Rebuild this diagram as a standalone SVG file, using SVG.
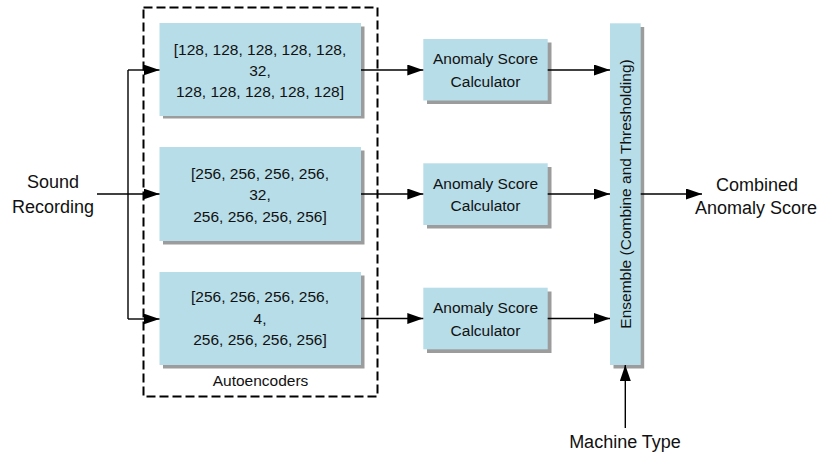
<svg xmlns="http://www.w3.org/2000/svg" width="820" height="456" viewBox="0 0 820 456">
  <defs>
    <marker id="arrow" markerUnits="userSpaceOnUse" markerWidth="16" markerHeight="11" refX="16" refY="5.5" orient="auto">
      <path d="M0,0 L16,5.5 L0,11 Z" fill="#000"/>
    </marker>
  </defs>
  <style>
    .box { fill: #b7dde8; }
    .shadow { fill: #9c9c9c; }
    .txt { font-family: "Liberation Sans", Arial, sans-serif; font-size: 15.5px; fill: #111; text-anchor: middle; }
    .lbl { font-family: "Liberation Sans", Arial, sans-serif; font-size: 18px; fill: #111; text-anchor: middle; }
    .wire { fill: none; stroke: #000; stroke-width: 1.4; }
    .arr { fill: none; stroke: #000; stroke-width: 1.4; marker-end: url(#arrow); }
  </style>
  <rect width="820" height="456" fill="#fff"/>

  <!-- autoencoder group frame -->
  <g id="autoencoders">
    <rect x="143.5" y="7.5" width="234" height="389" fill="none" stroke="#000" stroke-width="2" stroke-dasharray="9,4"/>
    <text class="txt" x="260.5" y="386">Autoencoders</text>
  </g>

  <!-- autoencoder 1 -->
  <g id="ae1">
    <rect class="shadow" x="163" y="26.5" width="201.5" height="92"/>
    <rect class="box" x="159.5" y="23" width="201.5" height="93"/>
    <text class="txt" x="260" y="55">[128, 128, 128, 128, 128,</text>
    <text class="txt" x="260" y="76">32,</text>
    <text class="txt" x="260" y="97">128, 128, 128, 128, 128]</text>
  </g>

  <!-- autoencoder 2 -->
  <g id="ae2">
    <rect class="shadow" x="163" y="150.5" width="201.5" height="94"/>
    <rect class="box" x="159.5" y="147" width="201.5" height="94"/>
    <text class="txt" x="260" y="178.5">[256, 256, 256, 256,</text>
    <text class="txt" x="260" y="200">32,</text>
    <text class="txt" x="260" y="221.5">256, 256, 256, 256]</text>
  </g>

  <!-- autoencoder 3 -->
  <g id="ae3">
    <rect class="shadow" x="163" y="275.5" width="201.5" height="93"/>
    <rect class="box" x="159.5" y="272" width="201.5" height="93"/>
    <text class="txt" x="260" y="302">[256, 256, 256, 256,</text>
    <text class="txt" x="260" y="323.5">4,</text>
    <text class="txt" x="260" y="345">256, 256, 256, 256]</text>
  </g>

  <!-- anomaly score calculators -->
  <g id="asc1">
    <rect class="shadow" x="427" y="42.5" width="124.5" height="61.5"/>
    <rect class="box" x="423.3" y="39" width="124.4" height="61.5"/>
    <text class="txt" x="485.5" y="64">Anomaly Score</text>
    <text class="txt" x="485.5" y="86.5">Calculator</text>
  </g>
  <g id="asc2">
    <rect class="shadow" x="427" y="167" width="124.5" height="61.5"/>
    <rect class="box" x="423.3" y="163.3" width="124.4" height="61.7"/>
    <text class="txt" x="485.5" y="188.5">Anomaly Score</text>
    <text class="txt" x="485.5" y="211">Calculator</text>
  </g>
  <g id="asc3">
    <rect class="shadow" x="427" y="291.5" width="124.5" height="61.5"/>
    <rect class="box" x="423.3" y="287.7" width="124.4" height="61.6"/>
    <text class="txt" x="485.5" y="313">Anomaly Score</text>
    <text class="txt" x="485.5" y="335.5">Calculator</text>
  </g>

  <!-- ensemble bar -->
  <g id="ensemble">
    <rect class="shadow" x="613.5" y="27" width="30.7" height="341.5"/>
    <rect class="box" x="610" y="23.3" width="30.7" height="341.7"/>
    <text class="txt" transform="translate(631,194) rotate(-90)">Ensemble (Combine and Thresholding)</text>
  </g>

  <!-- free labels -->
  <g id="input">
    <text class="lbl" x="53" y="188">Sound</text>
    <text class="lbl" x="53" y="212.5">Recording</text>
  </g>
  <g id="output">
    <text class="lbl" x="757" y="190.5">Combined</text>
    <text class="lbl" x="756" y="214">Anomaly Score</text>
  </g>
  <g id="machine-type">
    <text class="lbl" x="625" y="448">Machine Type</text>
  </g>

  <!-- connectors -->
  <g id="connectors">
    <path class="wire" d="M128,70 V319"/>
    <path class="arr" d="M97,194 H159.5"/>
    <path class="arr" d="M128,70 H159.5"/>
    <path class="arr" d="M128,319 H159.5"/>

    <path class="arr" d="M361,70 H423.3"/>
    <path class="arr" d="M361,194 H423.3"/>
    <path class="arr" d="M361,318.5 H423.3"/>

    <path class="arr" d="M547.7,70 H610"/>
    <path class="arr" d="M547.7,194 H610"/>
    <path class="arr" d="M547.7,318.5 H610"/>

    <path class="arr" d="M640.7,194 H702"/>
    <path class="arr" d="M625.3,428 V365"/>
  </g>
</svg>
